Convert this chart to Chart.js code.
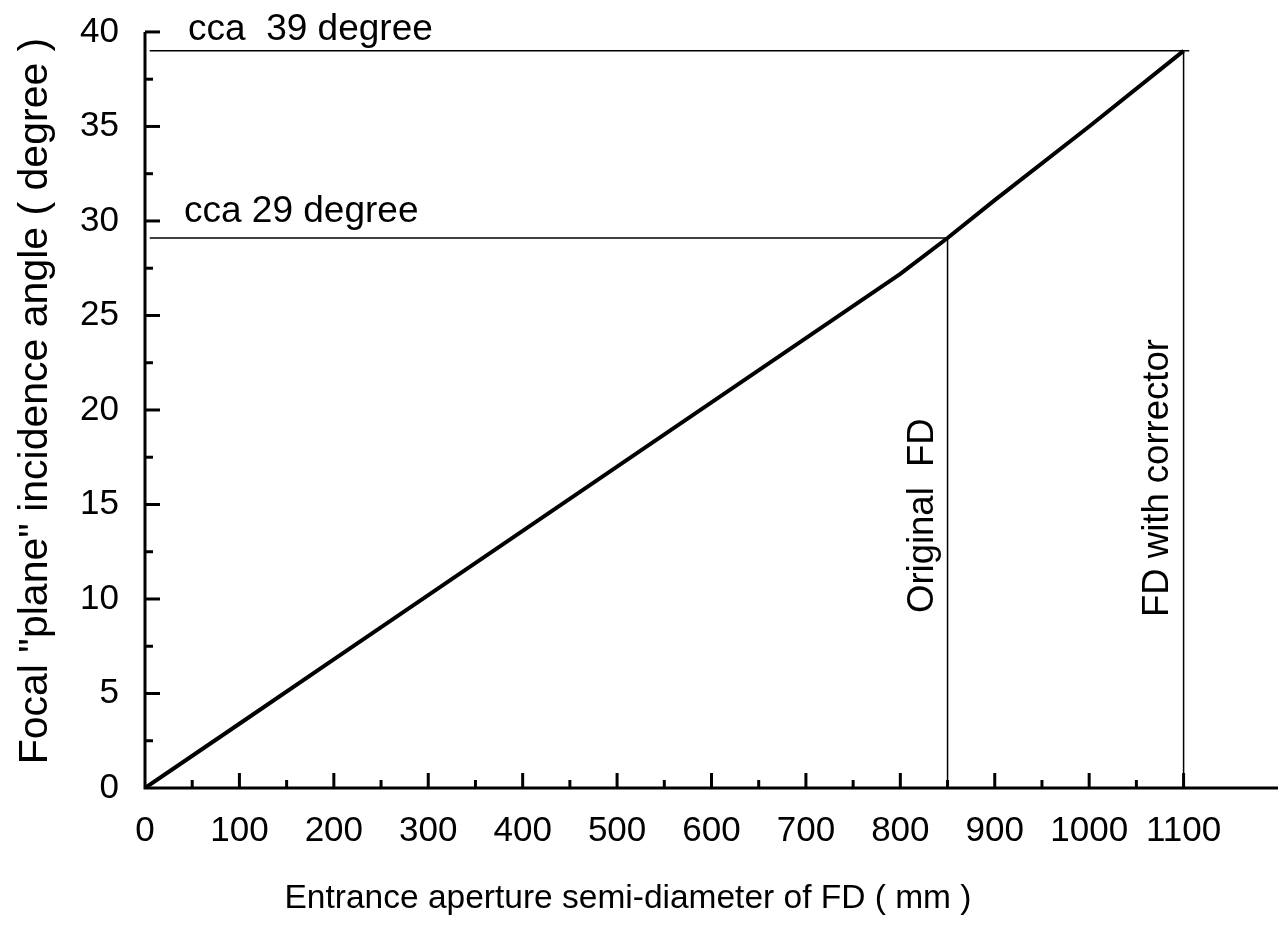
<!DOCTYPE html>
<html>
<head>
<meta charset="utf-8">
<script src="https://cdn.jsdelivr.net/npm/chart.js@4/dist/chart.umd.min.js"></script>
<style>
  html, body { margin: 0; padding: 0; background: #fff; }
  #wrap { width: 1278px; height: 927px; }
</style>
</head>
<body>
<div id="wrap"><canvas id="chart"></canvas></div>
<script>
// semi-diameter (mm) vs focal plane incidence angle (deg)
const apertureMm = [0, 100, 200, 300, 400, 500, 600, 700, 800, 850, 900, 1000, 1100];
const angleDeg = [0, 3.4, 6.8, 10.2, 13.6, 17.0, 20.4, 23.8, 27.2, 29.1, 31.1, 35.0, 39.0];

// marked limits
const originalFd = { x: 850, y: 29.1 };
const correctedFd = { x: 1100, y: 39.0 };

const xTicks = [0, 100, 200, 300, 400, 500, 600, 700, 800, 900, 1000, 1100];
const yTicks = [0, 5, 10, 15, 20, 25, 30, 35, 40];

const xTitle = "Entrance aperture semi-diameter of FD ( mm )";
const yTitle = 'Focal "plane" incidence angle ( degree )';

const FONT = "'Liberation Sans', Arial, sans-serif";

const axesPlugin = {
  id: "axesPlugin",
  afterDatasetsDraw(chart) {
    const { ctx, chartArea, scales } = chart;
    const x = scales.x;
    const y = scales.y;
    ctx.save();
    ctx.strokeStyle = "#000";
    ctx.lineWidth = 3;
    ctx.lineCap = "butt";

    // axis lines
    ctx.beginPath();
    ctx.moveTo(chartArea.left, chartArea.top);
    ctx.lineTo(chartArea.left, chartArea.bottom);
    ctx.lineTo(chartArea.right, chartArea.bottom);
    ctx.stroke();

    // inward ticks on x
    for (let v = 50; v <= 1100; v += 50) {
      const px = x.getPixelForValue(v);
      const len = v % 100 === 0 ? 15 : 8;
      ctx.beginPath();
      ctx.moveTo(px, chartArea.bottom);
      ctx.lineTo(px, chartArea.bottom - len);
      ctx.stroke();
    }
    // inward ticks on y
    for (let v = 2.5; v <= 40; v += 2.5) {
      const py = y.getPixelForValue(v);
      const len = v % 5 === 0 ? 15 : 8;
      ctx.beginPath();
      ctx.moveTo(chartArea.left, py);
      ctx.lineTo(chartArea.left + len, py);
      ctx.stroke();
    }

    ctx.fillStyle = "#000";
    ctx.textBaseline = "alphabetic";

    // axis titles
    ctx.font = "33.5px " + FONT;
    ctx.textAlign = "center";
    ctx.fillText(xTitle, 628, 908);
    ctx.save();
    ctx.translate(47, 401);
    ctx.rotate(-Math.PI / 2);
    ctx.font = "41px " + FONT;
    ctx.fillText(yTitle, 0, 0);
    ctx.restore();

    // annotations
    ctx.textAlign = "left";
    ctx.font = "37px " + FONT;
    ctx.fillText("cca  39 degree", 188, y.getPixelForValue(correctedFd.y) - 11);
    ctx.fillText("cca 29 degree", 184, y.getPixelForValue(originalFd.y) - 16);

    ctx.font = "36.5px " + FONT;
    ctx.save();
    ctx.translate(x.getPixelForValue(originalFd.x) - 15, 613);
    ctx.rotate(-Math.PI / 2);
    ctx.fillText("Original  FD", 0, 0);
    ctx.restore();

    ctx.save();
    ctx.translate(x.getPixelForValue(correctedFd.x) - 16, 617);
    ctx.rotate(-Math.PI / 2);
    ctx.fillText("FD with corrector", 0, 0);
    ctx.restore();

    ctx.restore();
  },
};

new Chart(document.getElementById("chart"), {
  type: "line",
  data: {
    datasets: [
      {
        label: "angle",
        data: apertureMm.map((v, i) => ({ x: v, y: angleDeg[i] })),
        borderColor: "#000",
        borderWidth: 4,
        pointRadius: 0,
        tension: 0,
      },
      {
        label: "39 deg",
        data: [
          { x: 5, y: correctedFd.y },
          { x: correctedFd.x + 6, y: correctedFd.y },
        ],
        borderColor: "#000",
        borderWidth: 1.5,
        pointRadius: 0,
      },
      {
        label: "29 deg",
        data: [
          { x: 5, y: originalFd.y },
          { x: originalFd.x, y: originalFd.y },
        ],
        borderColor: "#000",
        borderWidth: 1.5,
        pointRadius: 0,
      },
      {
        label: "original FD",
        data: [
          { x: originalFd.x, y: originalFd.y },
          { x: originalFd.x, y: 0 },
        ],
        borderColor: "#000",
        borderWidth: 1.5,
        pointRadius: 0,
      },
      {
        label: "FD with corrector",
        data: [
          { x: correctedFd.x, y: correctedFd.y },
          { x: correctedFd.x, y: 0 },
        ],
        borderColor: "#000",
        borderWidth: 1.5,
        pointRadius: 0,
      },
    ],
  },
  options: {
    responsive: true,
    maintainAspectRatio: false,
    animation: false,
    layout: { padding: { top: 2, right: 0, bottom: 0, left: 0 } },
    plugins: { legend: { display: false }, tooltip: { enabled: false } },
    scales: {
      x: {
        type: "linear",
        min: 0,
        max: 1200,
        afterFit: (scale) => { scale.height = 139; },
        afterBuildTicks: (scale) => { scale.ticks = xTicks.map((v) => ({ value: v })); },
        grid: { display: false, drawTicks: false },
        border: { display: false },
        ticks: {
          color: "#000",
          font: { family: FONT, size: 35 },
          padding: 22,
          maxRotation: 0,
          autoSkip: false,
          callback: (v) => String(v),
        },
      },
      y: {
        type: "linear",
        min: 0,
        max: 40,
        afterFit: (scale) => { scale.width = 145; },
        afterBuildTicks: (scale) => { scale.ticks = yTicks.map((v) => ({ value: v })); },
        grid: { display: false, drawTicks: false },
        border: { display: false },
        ticks: {
          color: "#000",
          font: { family: FONT, size: 35, lineHeight: 0.34 },
          padding: 26,
          callback: (v) => String(v),
        },
      },
    },
  },
  plugins: [axesPlugin],
});
</script>
</body>
</html>
